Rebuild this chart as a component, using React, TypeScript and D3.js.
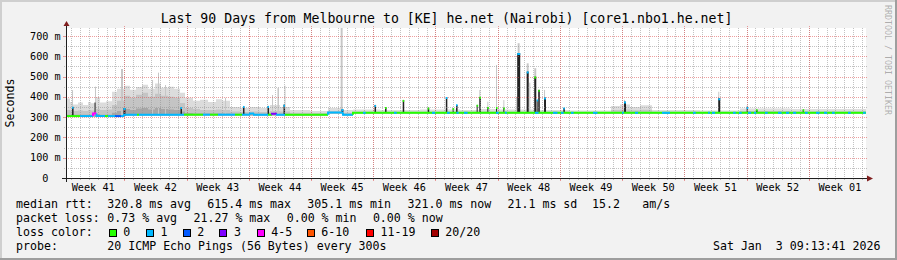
import React from "react";
import * as d3 from "d3";

const WIDTH = 897;
const HEIGHT = 260;
const DAY_MS = 86400000;
const START_MS = Date.UTC(2025, 9, 6, 10, 34);
const SPAN_DAYS = 90;
const Y_MAX = 739;

const title = "Last 90 Days from Melbourne to [KE] he.net (Nairobi) [core1.nbo1.he.net]";
const yMajorTicks = [0, 100, 200, 300, 400, 500, 600, 700];
const yMinorTicks = [50, 150, 250, 350, 450, 550, 650];
const lossLabels = ["0", "1", "2", "3", "4-5", "6-10", "11-19", "20/20"];
const lossColors = ["#26ff00", "#00b8ff", "#0059ff", "#7e00ff", "#ff00ff", "#ff5500", "#ff0000", "#a10000"];

const medianStats = ["320.8 ms avg", "615.4 ms max", "305.1 ms min", "321.0 ms now", "21.1 ms sd", "15.2", "am/s"];
const lossStats = ["0.73 % avg", "21.27 % max", "0.00 % min", "0.00 % now"];
const probeText = "20 ICMP Echo Pings (56 Bytes) every 300s";
const stampText = "Sat Jan\u00a0\u00a03 09:13:41 2026";

// median rtt, step series: [day offset, ms, loss class]
const medianSteps: [number, number, number][] = [
  [0, 305, 0], [1.58, 305, 1], [3.04, 318, 4], [3.43, 305, 1], [4.39, 305, 0], [4.73, 305, 1],
  [5.51, 305, 2], [6.19, 305, 1], [6.53, 312, 1], [7.99, 312, 0], [8.21, 312, 1], [13.28, 312, 0],
  [15.41, 312, 1], [16.2, 312, 0], [17.1, 312, 1], [19.01, 312, 0], [19.8, 312, 1], [20.7, 318, 1],
  [21.15, 312, 1], [22.73, 312, 0], [23.18, 316, 3], [23.74, 312, 1], [24.64, 312, 0], [29.48, 323, 1],
  [31.16, 312, 1], [32.29, 321, 0],
];

// short loss episodes on the baseline: [day offset, duration days, loss class]
const lossBits: [number, number, number][] = [
  [33.41, 0.3, 1], [36.9, 0.3, 1], [41.18, 0.35, 1], [42.86, 0.3, 1], [43.93, 0.25, 1], [44.78, 0.4, 1],
  [48.38, 0.3, 1], [49.39, 0.2, 1], [52.76, 0.4, 1], [54.79, 0.5, 1], [55.69, 0.3, 1], [56.81, 0.3, 1],
  [59.29, 0.5, 1], [62.55, 0.2, 1], [64.01, 0.35, 1], [67.05, 0.9, 1], [70.54, 0.3, 1], [72.23, 0.2, 1],
  [72.68, 0.35, 1], [75.04, 0.3, 1], [75.71, 0.3, 1], [76.73, 0.35, 1], [77.4, 0.25, 1], [78.64, 0.3, 1],
  [80.1, 0.4, 1], [81.0, 0.35, 1], [81.79, 0.35, 1], [83.14, 0.3, 1], [84.38, 0.4, 1], [85.28, 0.35, 1],
  [86.18, 0.3, 1], [87.98, 0.3, 1], [89.66, 0.3, 1],
];

// smoke bands (step series): [day offset, low ms, inner ms, mid ms, outer ms]
const smokeSteps: [number, number, number, number, number][] = [
  [0, 302, 312, 335, 392], [0.45, 302, 312, 332, 375], [0.79, 302, 312, 330, 362], [1.35, 302, 312, 332, 372],
  [1.91, 302, 312, 330, 360], [2.48, 302, 312, 335, 375], [2.81, 302, 312, 332, 368], [3.38, 302, 315, 340, 398],
  [3.83, 302, 312, 335, 372], [4.5, 302, 312, 338, 378], [5.18, 302, 322, 360, 425], [5.74, 302, 330, 380, 440],
  [6.53, 308, 340, 405, 455], [7.2, 308, 335, 395, 435], [7.88, 308, 342, 410, 448], [8.55, 308, 345, 420, 460],
  [9.23, 308, 338, 400, 440], [10.01, 308, 345, 415, 465], [10.69, 308, 340, 405, 445], [11.48, 308, 338, 400, 450],
  [12.15, 308, 335, 395, 440], [12.83, 308, 328, 370, 420], [13.39, 308, 320, 345, 395], [14.29, 308, 318, 340, 380],
  [15.08, 308, 318, 335, 385], [15.98, 308, 318, 335, 375], [16.88, 308, 318, 338, 388], [17.55, 308, 318, 335, 380],
  [18.45, 308, 316, 328, 350], [19.58, 308, 316, 325, 345], [20.7, 308, 316, 328, 350], [21.83, 308, 316, 325, 345],
  [22.95, 308, 316, 330, 360], [24.08, 308, 316, 328, 350], [25.2, 308, 315, 322, 335], [27.45, 308, 315, 320, 330],
  [29.48, 318, 325, 330, 345], [31.16, 308, 316, 322, 335], [32.29, 318, 323, 327, 338], [35.33, 318, 323, 326, 335],
  [39.83, 318, 323, 327, 338], [44.33, 318, 323, 326, 335], [46.58, 318, 324, 328, 340], [48.83, 318, 323, 327, 338],
  [53.33, 318, 323, 326, 335], [56.7, 318, 323, 325, 332], [61.31, 318, 325, 335, 355], [62.33, 318, 326, 338, 362],
  [63.45, 318, 325, 334, 350], [64.58, 318, 325, 336, 358], [65.93, 318, 323, 326, 335], [71.33, 318, 323, 325, 332],
  [75.83, 318, 324, 330, 343], [81.45, 318, 323, 328, 340],
];

// dense (dark) smoke spikes: [day offset, duration days, top ms, median ms, loss class]
const darkSpikes: [number, number, number, number, number][] = [
  [0.68, 0.17, 350, 346, 1], [3.21, 0.11, 372, 318, 4], [6.47, 0.22, 345, 340, 1], [12.88, 0.17, 348, 345, 1],
  [19.91, 0.17, 352, 350, 1], [22.67, 0.17, 355, 350, 1], [24.47, 0.17, 362, 356, 1], [30.99, 0.22, 338, 335, 1],
  [34.71, 0.17, 360, 355, 1], [35.89, 0.17, 348, 345, 0], [37.88, 0.17, 384, 380, 0], [40.69, 0.17, 347, 342, 0],
  [42.73, 0.17, 398, 394, 1], [43.5, 0.11, 344, 340, 0], [43.88, 0.17, 360, 358, 1], [46.2, 0.11, 360, 356, 0],
  [46.5, 0.17, 398, 395, 0], [47.4, 0.11, 349, 345, 0], [48.38, 0.11, 348, 345, 0], [49.2, 0.11, 346, 342, 0],
  [50.76, 0.34, 615, 611, 1], [51.83, 0.22, 524, 520, 1], [52.68, 0.22, 499, 495, 0], [52.95, 0.11, 384, 382, 1],
  [53.13, 0.17, 434, 430, 0], [53.78, 0.22, 396, 392, 1], [55.95, 0.17, 345, 342, 1], [62.78, 0.22, 376, 372, 1],
  [73.38, 0.22, 393, 388, 1], [76.58, 0.11, 351, 345, 1], [77.63, 0.17, 336, 334, 0], [82.88, 0.11, 336, 334, 0],
];

// sparse (light) smoke spikes: [day offset, duration days, top ms]
const greySpikes: [number, number, number][] = [
  [0.68, 0.11, 433], [3.26, 0.11, 450], [6.19, 0.22, 537], [9.68, 0.11, 483], [10.35, 0.11, 519], [11.14, 0.11, 458],
  [17.89, 0.11, 395], [23.18, 0.11, 409], [23.79, 0.17, 443], [24.58, 0.11, 455], [30.9, 0.22, 740], [46.5, 0.11, 434],
  [47.4, 0.11, 376], [48.38, 0.11, 557], [49.2, 0.11, 384], [50.64, 0.11, 400], [50.81, 0.22, 664], [51.83, 0.22, 565],
  [52.12, 0.11, 470], [52.68, 0.22, 541], [53.13, 0.11, 434], [53.78, 0.11, 434], [62.78, 0.11, 385], [73.38, 0.11, 425],
  [76.58, 0.11, 358],
];

const MONO = "'DejaVu Sans Mono', monospace";
const GRID = "rgba(143,143,143,0.55)";
const MGRID = "rgba(222,79,79,0.55)";

const toDate = (d: number) => new Date(START_MS + d * DAY_MS);

function medianAt(day: number): number {
  let v = medianSteps[0][1];
  for (const s of medianSteps) if (s[0] <= day) v = s[1];
  return v;
}

export default function App() {
  const x0 = 66, x1 = 866, yTop = 28, yBot = 178;
  const x = d3.scaleUtc().domain([toDate(0), toDate(SPAN_DAYS)]).range([x0, x1]);
  const y = d3.scaleLinear().domain([0, Y_MAX]).range([yBot, yTop]);
  const px = (v: number) => Math.round(v) + 0.5;

  const start = toDate(0), end = toDate(SPAN_DAYS);
  const days = d3.utcDay.range(start, end);
  const mondays = d3.utcMonday.range(start, end);
  const weekFmt = d3.utcFormat("%V");
  const weekLabels = d3.utcMonday
    .range(d3.utcMonday.floor(start), end)
    .map((m) => ({ m, c: x(new Date(m.getTime() + 3.5 * DAY_MS)) }))
    .filter((w) => w.c > x0 && w.c < x1);

  const smokeData = [...smokeSteps, [SPAN_DAYS, ...smokeSteps[smokeSteps.length - 1].slice(1)] as any];
  const band = (hiIdx: number) =>
    d3
      .area<any>()
      .x((d) => x(toDate(d[0])))
      .y0((d) => y(d[1]))
      .y1((d) => y(d[hiIdx]))
      .curve(d3.curveStepAfter)(smokeData) || "";

  const medianPaths = medianSteps.map((s, i) => {
    const xa = x(toDate(s[0]));
    const xb = x(toDate(i + 1 < medianSteps.length ? medianSteps[i + 1][0] : SPAN_DAYS));
    const yv = y(s[1]);
    const yp = i > 0 ? y(medianSteps[i - 1][1]) : yv;
    return { d: `M${xa},${yp}V${yv}H${xb}`, c: lossColors[s[2]] };
  });

  return (
    <div style={{ position: "fixed", left: 0, top: 0 }}>
      <svg width={WIDTH} height={HEIGHT} style={{ display: "block" }} fontFamily={MONO}>
        <rect x={0} y={0} width={WIDTH} height={HEIGHT} fill="#f2f2f2" />
        <rect x={0} y={0} width={WIDTH} height={2} fill="#cfcfcf" />
        <rect x={0} y={0} width={2} height={HEIGHT} fill="#cfcfcf" />
        <rect x={0} y={HEIGHT - 2} width={WIDTH} height={2} fill="#9e9e9e" />
        <rect x={WIDTH - 2} y={0} width={2} height={HEIGHT} fill="#9e9e9e" />
        <rect x={x0} y={yTop} width={x1 - x0} height={yBot - yTop} fill="#ffffff" />

        {/* smoke */}
        <path d={band(4)} fill="#dcdcdc" />
        <path d={band(3)} fill="#c4c4c4" />
        <path d={band(2)} fill="#a6a6a6" />
        {greySpikes.map((s, i) => {
          const xa = x(toDate(s[0]));
          const w = Math.max(1, x(toDate(s[0] + s[1])) - xa);
          const top = Math.max(yTop, y(s[2]));
          return <rect key={"g" + i} x={xa} y={top} width={w} height={y(medianAt(s[0])) - top} fill="#c6c6c6" />;
        })}
        {darkSpikes.map((s, i) => {
          const xa = x(toDate(s[0]));
          const w = Math.max(1, x(toDate(s[0] + s[1])) - xa);
          return (
            <rect key={"k" + i} x={xa} y={y(s[2])} width={w} height={y(medianAt(s[0])) - y(s[2])} fill="#222222" />
          );
        })}

        {/* grid */}
        {days.map((d, i) => (
          <g key={"dv" + i}>
            <line x1={px(x(d))} x2={px(x(d))} y1={yTop} y2={yBot} stroke={GRID} strokeDasharray="1,1" />
            <line x1={px(x(d))} x2={px(x(d))} y1={yBot} y2={yBot + 2} stroke={GRID} />
          </g>
        ))}
        {yMinorTicks.map((v) => (
          <line key={"hm" + v} x1={x0 - 2} x2={x1 + 2} y1={px(y(v))} y2={px(y(v))} stroke={GRID} strokeDasharray="1,1" />
        ))}
        {mondays.map((d, i) => (
          <g key={"wv" + i}>
            <line x1={px(x(d))} x2={px(x(d))} y1={yTop - 2} y2={yBot} stroke={MGRID} strokeDasharray="1,1" />
            <line x1={px(x(d))} x2={px(x(d))} y1={yBot} y2={yBot + 3} stroke={MGRID} />
          </g>
        ))}
        {yMajorTicks.filter((v) => v > 0).map((v) => (
          <g key={"hM" + v}>
            <line x1={x0} x2={x1 + 2} y1={px(y(v))} y2={px(y(v))} stroke={MGRID} strokeDasharray="1,1" />
            <line x1={x0 - 3} x2={x0} y1={px(y(v))} y2={px(y(v))} stroke={MGRID} />
          </g>
        ))}

        {/* median line */}
        {medianPaths.map((p, i) => (
          <path key={"m" + i} d={p.d} stroke={p.c} strokeWidth={2} fill="none" />
        ))}
        {lossBits.map((b, i) => {
          const xa = x(toDate(b[0]));
          const xb = Math.min(x1, x(toDate(b[0] + b[1])));
          const yy = y(medianAt(b[0]));
          return <line key={"lb" + i} x1={xa} x2={xb} y1={yy} y2={yy} stroke={lossColors[b[2]]} strokeWidth={2} />;
        })}
        {darkSpikes.map((s, i) => {
          const xa = x(toDate(s[0]));
          const xb = Math.max(xa + 1.5, x(toDate(s[0] + s[1])));
          return (
            <line key={"sd" + i} x1={xa} x2={xb} y1={y(s[3])} y2={y(s[3])} stroke={lossColors[s[4]]} strokeWidth={2} />
          );
        })}

        {/* axes */}
        <line x1={x0 - 4} x2={x1 + 4} y1={yBot + 0.5} y2={yBot + 0.5} stroke="#1f1f1f" />
        <line x1={x0 + 0.5} x2={x0 + 0.5} y1={yBot + 4} y2={yTop - 4} stroke="#1f1f1f" />
        <polygon points={`${x1 + 1},${yBot - 2.5} ${x1 + 1},${yBot + 3.5} ${x1 + 7},${yBot + 0.5}`} fill="#801f1f" />
        <polygon points={`${x0 - 2.5},${yTop - 2} ${x0 + 3.5},${yTop - 2} ${x0 + 0.5},${yTop - 7}`} fill="#801f1f" />

        {/* y labels */}
        {yMajorTicks.map((v) => (
          <text
            key={"yl" + v}
            x={v === 0 ? 48.4 : 60.7}
            y={y(v) + 3.6}
            fontSize={10.2}
            textAnchor="end"
            fill="#000"
          >
            {v === 0 ? "0" : `${v} m`}
          </text>
        ))}
        {/* x labels */}
        {weekLabels.map((w, i) => (
          <text key={"xl" + i} x={w.c} y={191} fontSize={10.2} textAnchor="middle" fill="#000">
            {"Week " + weekFmt(w.m)}
          </text>
        ))}

        {/* title, unit, signature */}
        <text x={446.5} y={23} fontSize={13.2} textAnchor="middle" fill="#000">
          {title}
        </text>
        <text transform={`translate(13.5,${(yTop + yBot) / 2}) rotate(-90)`} fontSize={11.6} textAnchor="middle" fill="#000">
          Seconds
        </text>
        <text transform="translate(885,5) rotate(90)" fontSize={8.3} fill="rgba(0,0,0,0.3)">
          RRDTOOL / TOBI OETIKER
        </text>

        {/* legend */}
        <g fontSize={11.6} fill="#000">
          <text x={16} y={208.3}>median rtt:</text>
          {[107.3, 207.3, 307.3, 407.5, 507.5, 592, 642.3].map((lx, i) => (
            <text key={"ms" + i} x={lx} y={208.3}>
              {medianStats[i]}
            </text>
          ))}
          <text x={16} y={222.3}>packet loss:</text>
          {[107.3, 193.5, 286.7, 372.9].map((lx, i) => (
            <text key={"ls" + i} x={lx} y={222.3}>
              {lossStats[i]}
            </text>
          ))}
          <text x={16} y={236.3}>loss color:</text>
          {[108.7, 146, 182.7, 219.3, 256.7, 306.7, 366, 430.7].map((bx, i) => (
            <g key={"lc" + i}>
              <rect x={Math.round(bx) + 0.5} y={229.5} width={7} height={7} fill={lossColors[i]} stroke="#000" />
              <text x={bx + 14.6} y={236.3}>
                {lossLabels[i]}
              </text>
            </g>
          ))}
          <text x={16} y={250}>probe:</text>
          <text x={107.3} y={250}>{probeText}</text>
          <text x={880.5} y={250} textAnchor="end">
            {stampText}
          </text>
        </g>
      </svg>
    </div>
  );
}
